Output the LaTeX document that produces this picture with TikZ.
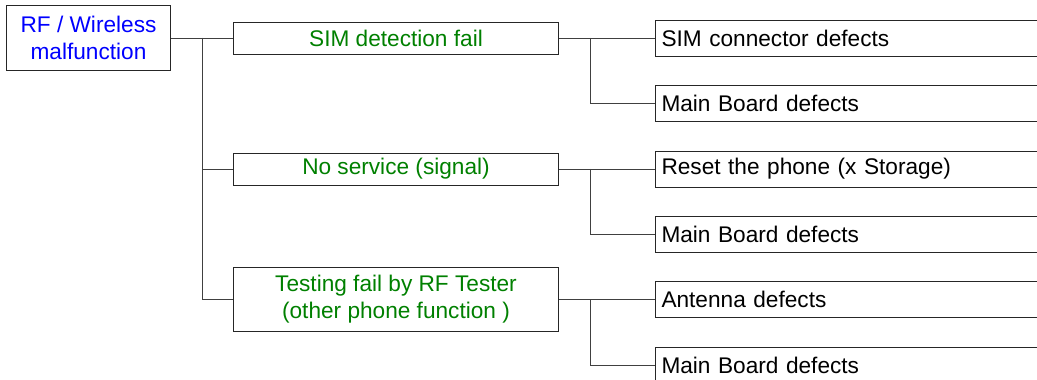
\documentclass[tikz,border=0pt]{standalone}
\usepackage{fontspec}
\setmainfont{Liberation Sans}
\begin{document}
\begin{tikzpicture}[x=0.025cm, y=-0.025cm,
    every node/.style={font=\fontsize{16.1}{19.6}\selectfont, inner sep=0pt},
    rootbox/.style={draw=black!85, line width=0.7pt, text=blue, align=center,
        minimum width=4.075cm, minimum height=1.625cm},
    causebox/.style={draw=black!85, line width=0.7pt, text={rgb,255:red,0;green,128;blue,0},
        align=center, minimum width=8.1cm, minimum height=0.8cm},
    fixbox/.style={draw=black!85, line width=0.7pt, anchor=west, align=left,
        text width=9.7cm, inner xsep=0.15cm, minimum height=0.9cm},
    link/.style={draw=black!75, line width=0.7pt}]
    \path[use as bounding box, clip] (0,0) rectangle (1037,380);

    % symptom
    \node[rootbox] (root) at (88.5,38) {RF / Wireless\\malfunction};

    % causes
    \node[causebox] (simfail) at (396,38) {SIM detection fail};
    \node[causebox] (nosvc) at (396,169) {No service (signal)};
    \node[causebox, minimum height=1.6cm] (rftest) at (396,299)
        {Testing fail by RF Tester\\(other phone function )};

    % repairs
    \node[fixbox] (simconn) at (655,38) {SIM connector defects};
    \node[fixbox] (board1) at (655,103) {Main Board defects};
    \node[fixbox] (reset) at (655,169) {Reset the phone (x Storage)};
    \node[fixbox] (board2) at (655,234) {Main Board defects};
    \node[fixbox] (antenna) at (655,299) {Antenna defects};
    \node[fixbox] (board3) at (655,365) {Main Board defects};

    % tree lines
    \coordinate (t1) at (202,38);
    \draw[link] (root.east) -- (simfail.west);
    \draw[link] (t1) |- (nosvc.west);
    \draw[link] (t1) |- (rftest.west);

    \coordinate (t2) at (590,38);
    \draw[link] (simfail.east) -- (simconn.west);
    \draw[link] (t2) |- (board1.west);

    \coordinate (t3) at (590,169);
    \draw[link] (nosvc.east) -- (reset.west);
    \draw[link] (t3) |- (board2.west);

    \coordinate (t4) at (590,299);
    \draw[link] (rftest.east) -- (antenna.west);
    \draw[link] (t4) |- (board3.west);
\end{tikzpicture}
\end{document}
